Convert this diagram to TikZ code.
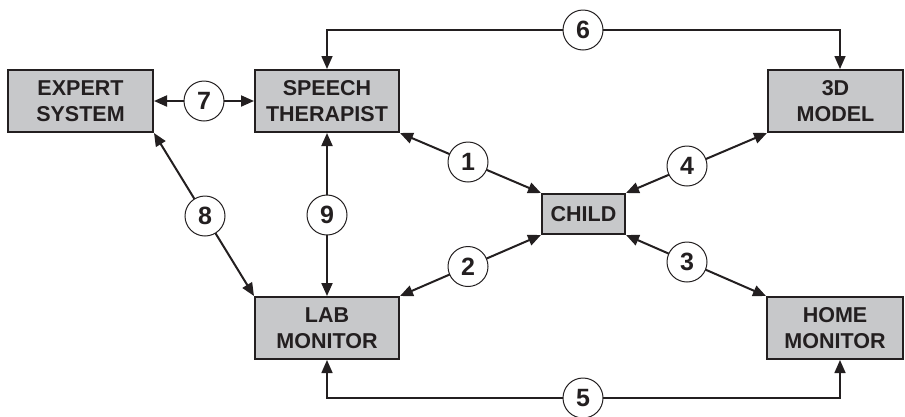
\documentclass[tikz,border=0pt]{standalone}
\usepackage{fontspec}
\setmainfont{Liberation Sans}[BoldFont={Liberation Sans Bold}]
\usetikzlibrary{arrows.meta}
\definecolor{boxgray}{RGB}{199,200,202}
\definecolor{ink}{RGB}{35,31,32}
\tikzset{
  blk/.style={draw=ink, line width=2pt, fill=boxgray, text=ink, align=center,
    font=\bfseries\fontsize{21.5}{25.5}\selectfont, inner sep=0pt, minimum height=62pt},
  num/.style={circle, draw=ink, line width=1pt, fill=white, text=ink, minimum size=40pt,
    inner sep=0pt, font=\bfseries\fontsize{25}{25}\selectfont},
  conn/.style={draw=ink, line width=2pt, {Triangle[length=13pt,width=11pt]}-{Triangle[length=13pt,width=11pt]}},
  elbow/.style={draw=ink, line width=1.6pt, {Triangle[length=13pt,width=11pt]}-{Triangle[length=13pt,width=11pt]}}
}
\begin{document}
\begin{tikzpicture}[x=1pt,y=-1pt]
\useasboundingbox (0,0) rectangle (905,416);
% boxes
\node[blk, minimum width=145pt] (expert) at (80.5,101) {EXPERT\\SYSTEM};
\node[blk, minimum width=144pt] (speech) at (327,101) {SPEECH\\THERAPIST};
\node[blk, minimum width=135pt] (model) at (835.5,101) {3D\\MODEL};
\node[blk, minimum width=83pt, minimum height=40pt] (child) at (583.5,214) {CHILD};
\node[blk, minimum width=144pt] (lab) at (327,328) {LAB\\MONITOR};
\node[blk, minimum width=136pt] (home) at (835,328) {HOME\\MONITOR};
% corner coordinates for elbow connectors
\coordinate (t6) at (840,30);
\coordinate (b5) at (840,398);
% connectors
\draw[conn] (expert.east) -- (speech.west);
\draw[conn] (speech.south east) -- (child.north west);
\draw[conn] (model.south west) -- (child.north east);
\draw[conn] (child.south west) -- (lab.north east);
\draw[conn] (child.south east) -- (home.north west);
\draw[conn] (expert.south east) -- (lab.north west);
\draw[conn] (speech.south) -- (lab.north);
\draw[elbow] (speech.north) |- (t6) -- (t6 |- model.north);
\draw[elbow] (lab.south) |- (b5) -- (b5 |- home.south);
% numbered circles
\node[num] (n1) at (468,162) {1};
\node[num] (n2) at (468,266.5) {2};
\node[num] (n3) at (687,262) {3};
\node[num] (n4) at (687,166) {4};
\node[num] (n5) at (583,398) {5};
\node[num] (n6) at (583,30) {6};
\node[num] (n7) at (204,101) {7};
\node[num] (n8) at (205,216) {8};
\node[num] (n9) at (327,215) {9};
\end{tikzpicture}
\end{document}
